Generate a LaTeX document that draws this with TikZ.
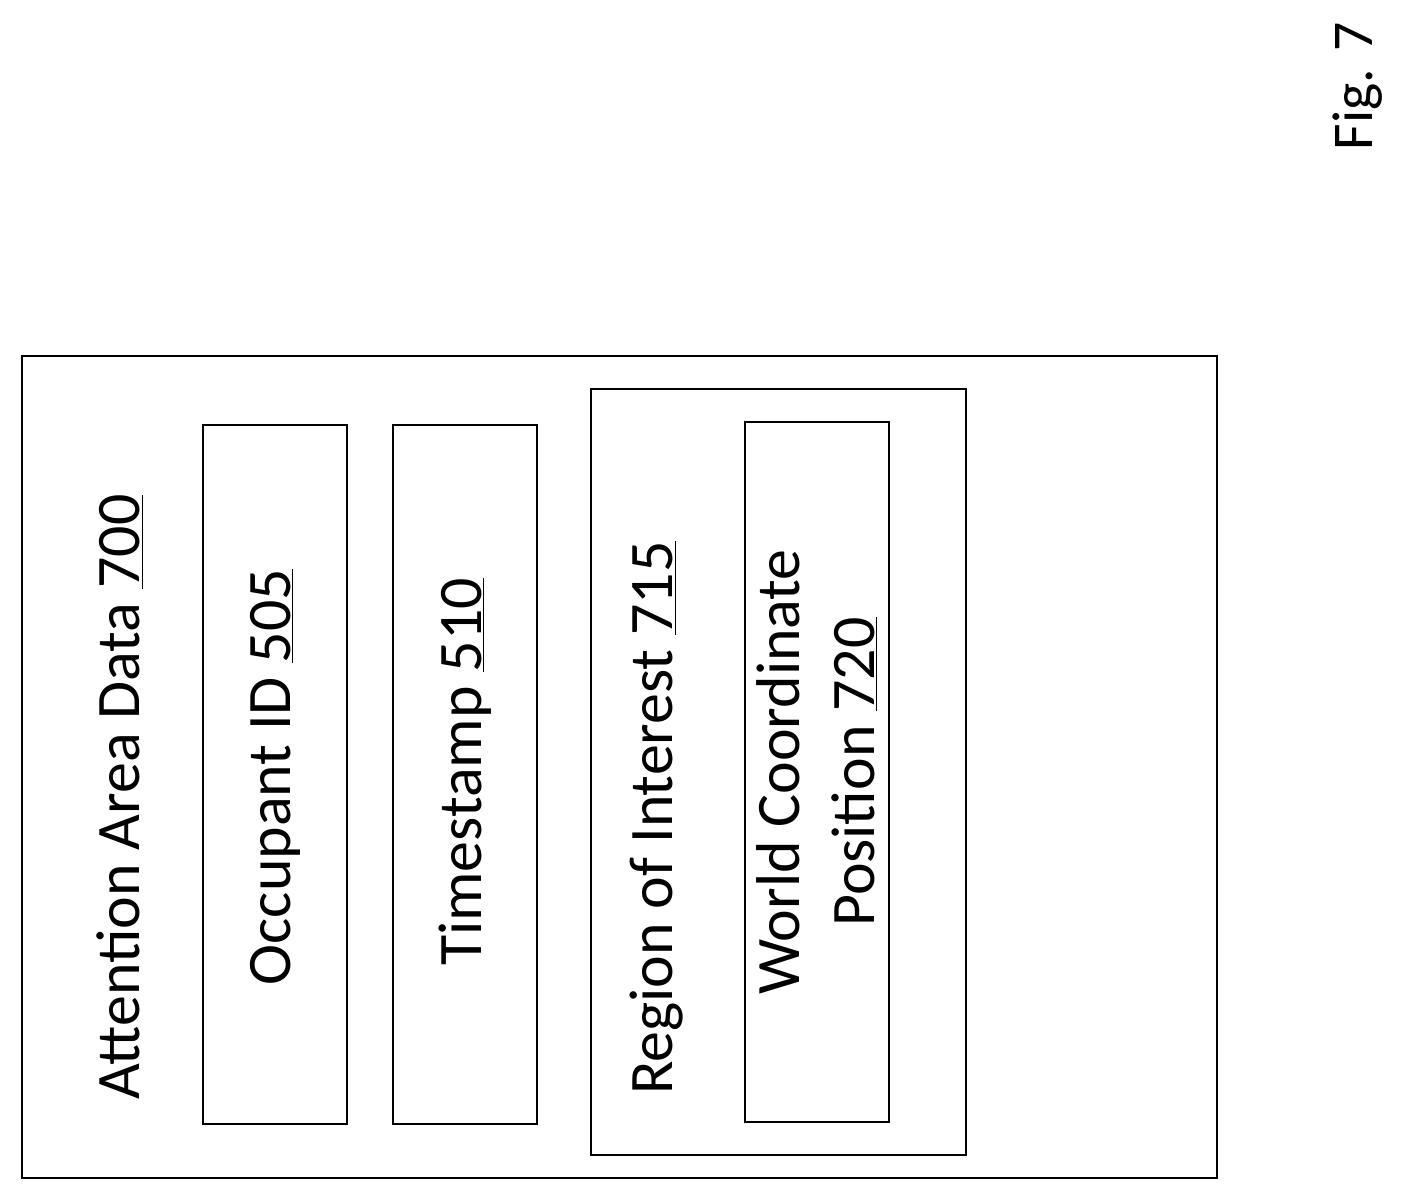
\documentclass[tikz,border=0pt]{standalone}
\usepackage{fontspec}
\setmainfont{Carlito}
\usetikzlibrary{positioning}

\begin{document}
\begin{tikzpicture}[x=0.025cm, y=-0.025cm,
        every node/.style={font=\fontsize{44}{53}\selectfont},
        field/.style={draw, line width=1.4pt},
        vlabel/.style={rotate=90, align=center}
    ]
    \useasboundingbox (0,0) rectangle (1407,1202);
    % boxes
    \draw[field] (22,356) rectangle (1217,1178);
    \draw[field] (203,425) rectangle (347,1124);
    \draw[field] (393,425) rectangle (537,1124);
    \draw[field] (591,389) rectangle (966,1155);
    \draw[field] (745,422) rectangle (889,1122);
    % labels
    \node[vlabel] (attn) at (120,797) {Attention Area Data \underline{700}};
    \node[vlabel] (occ) at (275,777) {Occupant ID \underline{505}};
    \node[vlabel] (ts) at (465,772) {Timestamp \underline{510}};
    \node[vlabel] (roi) at (657,818) {Region of Interest \underline{715}};
    \node[vlabel] (wcp) at (817,772) {World Coordinate\\Position \underline{720}};
    \node[vlabel, font=\fontsize{41}{49}\selectfont] (fig) at (1358,86) {Fig. 7};
\end{tikzpicture}
\end{document}
